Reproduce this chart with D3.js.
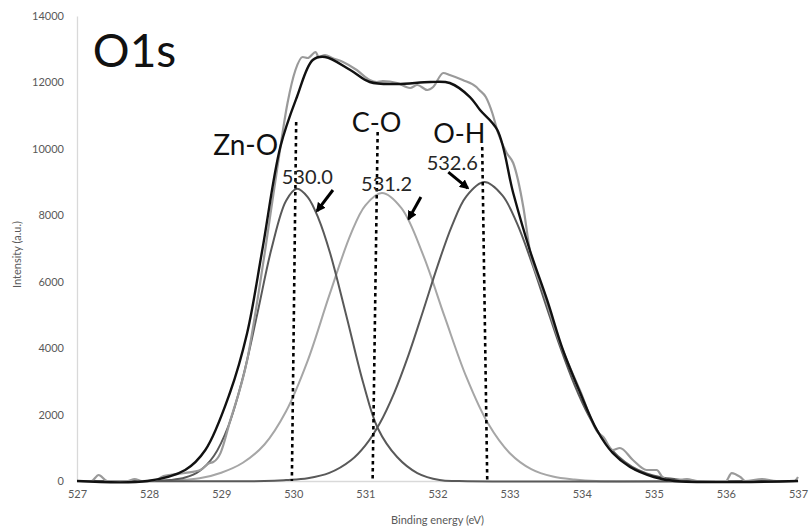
<!DOCTYPE html>
<html>
<head>
<meta charset="utf-8">
<script src="https://cdn.jsdelivr.net/npm/d3@7"></script>
<style>
  html, body { margin: 0; padding: 0; background: #fff; }
  svg { display: block; font-family: Lato, "Open Sans", sans-serif; }
</style>
</head>
<body>
<svg id="chart" width="810" height="532"></svg>
<script>
// O1s XPS spectrum: measured signal, fitted envelope and three fitted components

const xTicks = [527, 528, 529, 530, 531, 532, 533, 534, 535, 536, 537];
const yTicks = [0, 2000, 4000, 6000, 8000, 10000, 12000, 14000];

// Measured signal (binding energy eV, counts)
const rawEnergy = [527.0, 527.2, 527.3, 527.42, 527.7, 527.8, 527.9, 528.1, 528.2, 528.5, 528.71, 528.84, 528.89, 528.99,
  529.12, 529.36, 529.54, 529.61, 529.78, 529.92, 530.03, 530.13, 530.2, 530.31, 530.35, 530.44, 530.54, 530.69, 530.88,
  531.06, 531.16, 531.24, 531.44, 531.62, 531.72, 531.86, 531.94, 532.08, 532.17, 532.35, 532.54, 532.58, 532.67, 532.76,
  532.84, 532.96, 533.05, 533.19, 533.28, 533.46, 533.7, 533.98, 534.22, 534.3, 534.43, 534.53, 534.71, 534.9, 535.04,
  535.12, 535.27, 535.46, 535.6, 536.0, 536.08, 536.2, 536.27, 536.5, 536.7, 536.95, 537.0];
const rawCounts = [0, 0, 180, 0, 0, 60, 0, 30, 150, 240, 330, 540, 570, 840,
  1780, 3643, 5961, 6955, 9454, 11381, 12374, 12766, 12736, 12916, 12766, 12826, 12736, 12615, 12374,
  12073, 12013, 12043, 11983, 11832, 11923, 11772, 11862, 12284, 12224, 12073, 11862, 11772, 11561, 11080,
  10478, 9876, 9574, 8250, 6955, 5750, 4150, 2710, 1475, 1325, 933, 994, 632, 331, 331,
  120, 0, 60, 0, 0, 240, 120, 0, 60, 0, 0, 120];

// Fitted envelope
const envEnergy = [527.0, 527.98, 528.5, 528.78, 529.12, 529.36, 529.57, 529.82, 530.05, 530.27, 530.44, 530.79, 531.06,
  531.44, 531.9, 532.17, 532.45, 532.59, 532.83, 533.05, 533.28, 533.52, 533.74, 533.98, 534.21, 534.43, 534.67, 535.0, 535.29, 537.0];
const envCounts = [0, 0, 331, 933, 2650, 4456, 6955, 10056, 11561, 12675, 12766, 12374, 12013,
  11953, 12013, 11983, 11561, 11170, 10568, 8671, 6955, 5450, 3944, 2650, 1535, 843, 421, 120, 0, 0];

// Component Zn-O
const znoEnergy = [527.0, 528.0, 528.3, 528.5, 528.7, 528.9, 529.1, 529.3, 529.5, 529.7, 529.9, 530.05, 530.2, 530.35,
  530.51, 530.74, 530.97, 531.17, 531.44, 531.72, 532.03, 532.3, 537.0];
const znoCounts = [0, 0, 30, 103, 302, 760, 1656, 3106, 5025, 7015, 8440, 8800, 8550, 7900,
  6864, 4938, 2950, 1596, 722, 240, 30, 0, 0];

// Component C-O
const coEnergy = [527.0, 528.0, 528.4, 528.7, 529.0, 529.3, 529.6, 529.9, 530.2, 530.5, 530.8, 531.0, 531.23,
  531.5, 531.8, 532.1, 532.4, 532.7, 533.0, 533.3, 533.6, 533.9, 534.2, 537.0];
const coCounts = [0, 0, 20, 80, 250, 550, 1100, 2100, 3625, 5595, 7448, 8300, 8670,
  8213, 6808, 4940, 3133, 1736, 845, 358, 133, 43, 0, 0];

// Component O-H
const ohEnergy = [527.0, 529.6, 529.9, 530.2, 530.5, 530.8, 531.0, 531.2, 531.4, 531.6, 531.8, 532.0, 532.2, 532.4,
  532.65, 532.9, 533.1, 533.3, 533.5, 533.7, 533.9, 534.1, 534.3, 534.5, 534.7, 534.9, 535.1, 535.3, 535.6, 537.0];
const ohCounts = [0, 0, 30, 83, 243, 624, 1073, 1740, 2655, 3805, 5120, 6470, 7684, 8570,
  9000, 8600, 7770, 6620, 5327, 4043, 2895, 1955, 1248, 750, 426, 229, 115, 55, 0, 0];

// Peak assignments: name, fitted position label, marker line energy (top, bottom), marker top intensity
const peakNames = ["Zn-O", "C-O", "O-H"];
const peakLabels = ["530.0", "531.2", "532.6"];
const markerTopEnergy = [530.04, 531.17, 532.62];
const markerBottomEnergy = [529.98, 531.10, 532.69];
const markerTopCounts = [10807, 10507, 10055];

const svg = d3.select("#chart");
const margin = { left: 77, right: 12, top: 16, bottom: 51 };
const W = 810, H = 532;

const x = d3.scaleLinear().domain([527, 537]).range([margin.left, W - margin.right]);
const y = d3.scaleLinear().domain([0, 14000]).range([H - margin.bottom, margin.top]);

// Axes
const xAxis = d3.axisBottom(x).tickValues(xTicks).tickSize(0).tickPadding(9).tickFormat(d3.format("d"));
const yAxis = d3.axisLeft(y).tickValues(yTicks).tickSize(0).tickPadding(13).tickFormat(d3.format("d"));

const gx = svg.append("g").attr("transform", `translate(0,${y(0)})`).call(xAxis);
const gy = svg.append("g").attr("transform", `translate(${x(527)},0)`).call(yAxis);
[gx, gy].forEach(g => {
  g.select(".domain").attr("stroke", "#d9d9d9").attr("stroke-width", 1.3);
  g.selectAll("text").attr("fill", "#595959").style("font-size", "11px").style("font-family", "Lato, sans-serif");
});

svg.append("text")
  .attr("x", (x(527) + x(537)) / 2).attr("y", 524)
  .attr("text-anchor", "middle").attr("fill", "#595959")
  .style("font-size", "11px").text("Binding energy (eV)");

svg.append("text")
  .attr("transform", `translate(21,${(y(0) + y(14000)) / 2 + 6}) rotate(-90)`)
  .attr("text-anchor", "middle").attr("fill", "#595959")
  .style("font-size", "11px").text("Intensity (a.u.)");

// Curves
const smooth = d3.line().x(d => x(d[0])).y(d => y(d[1])).curve(d3.curveCatmullRom.alpha(0.5));
const wiggly = d3.line().x(d => x(d[0])).y(d => y(d[1])).curve(d3.curveMonotoneX);
const zip = (a, b) => a.map((v, i) => [v, b[i]]);

const series = [
  { e: coEnergy, c: coCounts, stroke: "#a6a6a6", w: 2, gen: smooth },
  { e: znoEnergy, c: znoCounts, stroke: "#595959", w: 2, gen: smooth },
  { e: ohEnergy, c: ohCounts, stroke: "#595959", w: 2, gen: smooth },
  { e: rawEnergy, c: rawCounts, stroke: "#9a9a9a", w: 2.2, gen: wiggly },
  { e: envEnergy, c: envCounts, stroke: "#111", w: 2.4, gen: smooth }
];
series.forEach(s => {
  svg.append("path")
    .datum(zip(s.e, s.c))
    .attr("fill", "none")
    .attr("stroke", s.stroke)
    .attr("stroke-width", s.w)
    .attr("stroke-linejoin", "round")
    .attr("d", s.gen);
});

// Dotted peak position markers
peakNames.forEach((n, i) => {
  svg.append("line")
    .attr("x1", x(markerTopEnergy[i])).attr("y1", y(markerTopCounts[i]))
    .attr("x2", x(markerBottomEnergy[i])).attr("y2", y(0))
    .attr("stroke", "#000").attr("stroke-width", 2.6)
    .attr("stroke-dasharray", "3.5,3.5");
});

// Text annotations (anchored in data units)
const annot = [
  { t: "O1s", e: 527.22, v: 12463, size: 46 },
  { t: peakNames[0], e: 528.89, v: 9815, size: 28 },
  { t: peakNames[1], e: 530.81, v: 10507, size: 27 },
  { t: peakNames[2], e: 531.94, v: 10176, size: 27 },
  { t: peakLabels[0], e: 529.84, v: 8940, size: 20 },
  { t: peakLabels[1], e: 530.94, v: 8730, size: 20 },
  { t: peakLabels[2], e: 531.85, v: 9364, size: 20 }
];
annot.forEach(a => {
  svg.append("text")
    .attr("x", x(a.e)).attr("y", y(a.v))
    .attr("fill", a.size >= 27 ? "#111" : "#262626")
    .style("font-size", a.size + "px")
    .text(a.t);
});

// Arrows pointing at the components
svg.append("defs").append("marker")
  .attr("id", "head").attr("viewBox", "0 0 10 10")
  .attr("refX", 8).attr("refY", 5)
  .attr("markerWidth", 3.2).attr("markerHeight", 3.2)
  .attr("markerUnits", "strokeWidth")
  .attr("orient", "auto")
  .append("path").attr("d", "M0,0 L10,5 L0,10 z").attr("fill", "#000");

const arrowFrom = [[530.55, 8761], [531.77, 8550], [532.15, 9300]];
const arrowTo = [[530.33, 8130], [531.60, 7890], [532.42, 8820]];
arrowFrom.forEach((f, i) => {
  svg.append("line")
    .attr("x1", x(f[0])).attr("y1", y(f[1]))
    .attr("x2", x(arrowTo[i][0])).attr("y2", y(arrowTo[i][1]))
    .attr("stroke", "#000").attr("stroke-width", 3)
    .attr("marker-end", "url(#head)");
});
</script>
</body>
</html>
